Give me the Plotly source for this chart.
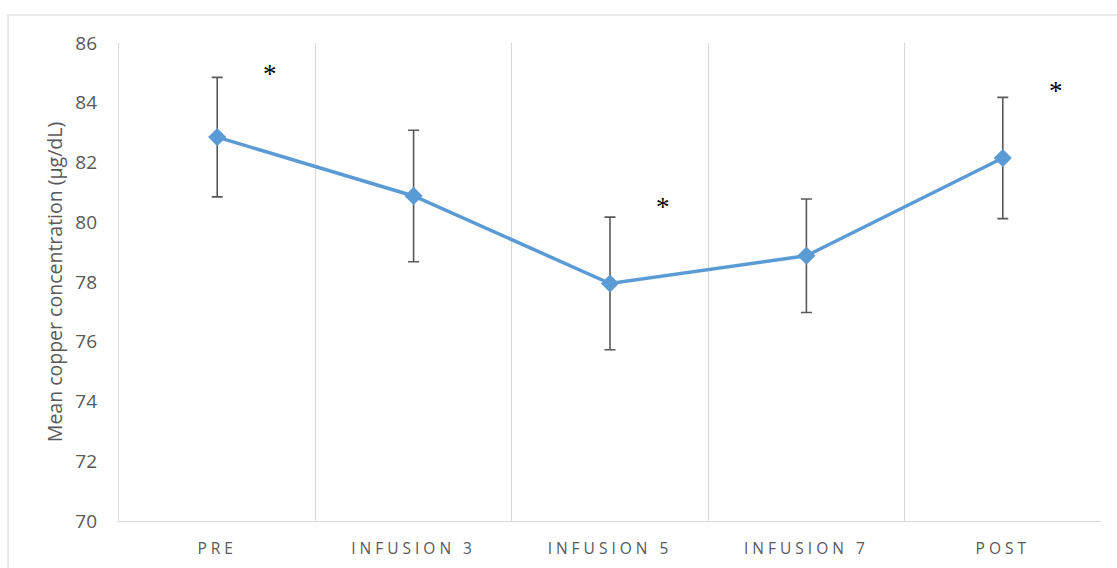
import plotly.graph_objects as go

categories = ["PRE", "INFUSION 3", "INFUSION 5", "INFUSION 7", "POST"]
mean_copper = [82.85, 80.88, 77.95, 78.88, 82.15]
error_sd = [2.0, 2.2, 2.22, 1.9, 2.03]
y_ticks = [70, 72, 74, 76, 78, 80, 82, 84, 86]

# significance asterisks: category index and height on the y scale
star_idx = [0, 2, 4]
star_y = [84.96, 80.5, 84.39]

x_idx = list(range(len(categories)))
font_family = "'Open Sans', sans-serif"
axis_grey = "#d9d9d9"
text_grey = "#595959"


def spaced(label):
    return f'<span style="letter-spacing:4px">{label}</span>'


fig = go.Figure()
fig.add_trace(go.Scatter(
    x=x_idx,
    y=mean_copper,
    mode="lines+markers",
    line=dict(color="#5B9BD5", width=3.5),
    marker=dict(symbol="diamond", size=14, color="#5B9BD5"),
    error_y=dict(type="data", array=error_sd, visible=True,
                 color="#595959", thickness=1.6, width=5.5),
    showlegend=False,
))

for i, yv in zip(star_idx, star_y):
    fig.add_annotation(
        x=i + 0.27, y=yv, xref="x", yref="y", text="*", showarrow=False,
        yanchor="middle",
        font=dict(family="Liberation Serif, serif", size=27, color="#000000"),
    )

# outer chart border
fig.add_shape(type="rect", xref="paper", yref="paper",
              x0=-0.113, x1=1.2, y0=-0.3, y1=1.0586,
              line=dict(color=axis_grey, width=1.2), layer="below")

fig.update_layout(
    width=1117, height=568,
    margin=dict(l=119, r=16, t=43, b=47),
    paper_bgcolor="white", plot_bgcolor="white",
    font=dict(family=font_family, color=text_grey),
    xaxis=dict(
        range=[-0.5, 4.5],
        tickvals=x_idx,
        ticktext=[spaced(c) for c in categories],
        tickfont=dict(size=15.5, color=text_grey),
        showgrid=False,
        zeroline=False,
        automargin=False,
        showline=True, linecolor=axis_grey, linewidth=1.3,
        ticks="outside", ticklen=13, tickcolor="rgba(0,0,0,0)",
        minor=dict(tickvals=[i + 0.5 for i in x_idx], showgrid=True,
                   gridcolor=axis_grey, gridwidth=1.3, ticks=""),
    ),
    yaxis=dict(
        range=[70, 86],
        tickvals=y_ticks,
        tickfont=dict(size=19, color=text_grey),
        showgrid=False,
        zeroline=False,
        automargin=False,
        showline=True, linecolor=axis_grey, linewidth=1.3,
        ticks="outside", ticklen=17, tickcolor="rgba(0,0,0,0)",
        title=dict(text="Mean copper concentration (µg/dL)",
                   font=dict(size=19.5, color=text_grey), standoff=7),
    ),
)

fig.write_html("out.html")
